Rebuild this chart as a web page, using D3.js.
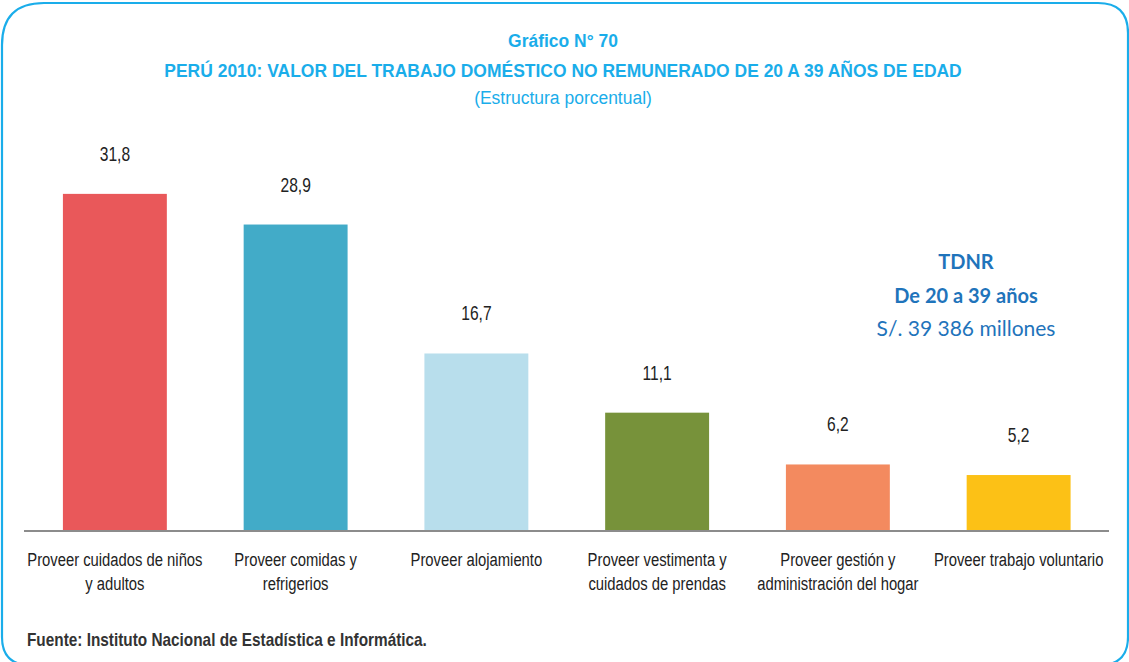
<!DOCTYPE html>
<html>
<head>
<meta charset="utf-8">
<script src="https://cdn.jsdelivr.net/npm/d3@7"></script>
<style>
  html, body { margin: 0; padding: 0; background: #fff; }
  svg { display: block; }
</style>
</head>
<body>
<div id="chart"></div>
<script>
// Categories (two-line labels), values and bar colours
const categories = [
  ["Proveer cuidados de niños", "y adultos"],
  ["Proveer comidas y", "refrigerios"],
  ["Proveer alojamiento"],
  ["Proveer vestimenta y", "cuidados de prendas"],
  ["Proveer gestión y", "administración del hogar"],
  ["Proveer trabajo voluntario"]
];
const values = [31.8, 28.9, 16.7, 11.1, 6.2, 5.2];
const colors = ["#E9585A", "#42ABC8", "#B8DEEC", "#77923A", "#F38A5F", "#FCC116"];

const titleLines = [
  "Gráfico N° 70",
  "PERÚ 2010: VALOR DEL TRABAJO DOMÉSTICO NO REMUNERADO DE 20 A 39 AÑOS DE EDAD",
  "(Estructura porcentual)"
];
const noteLines = ["TDNR", "De 20 a 39 años", "S/. 39 386 millones"];
const source = "Fuente: Instituto Nacional de Estadística e Informática.";

const W = 1129, H = 662;
const sans = "'Liberation Sans', Arial, sans-serif";

const svg = d3.select("#chart").append("svg")
  .attr("width", W).attr("height", H);

// Condensed text: draw at origin, then translate and squeeze horizontally
function condensed(g, x, y, sx, text, size, weight, anchor, fill) {
  return g.append("text")
    .attr("transform", `translate(${x},${y}) scale(${sx},1)`)
    .attr("text-anchor", anchor)
    .attr("fill", fill)
    .style("font-family", sans)
    .style("font-size", size + "px")
    .style("font-weight", weight)
    .text(text);
}

// Rounded frame (larger radius at top-left); bottom edge runs just past the page
const fx0 = 2, fy0 = 3, fx1 = 1128, fy1 = 665;
const rTL = 42, rTR = 30, rBR = 28, rBL = 28;
const framePath = d3.path();
framePath.moveTo(fx0 + rTL, fy0);
framePath.lineTo(fx1 - rTR, fy0);
framePath.quadraticCurveTo(fx1, fy0, fx1, fy0 + rTR);
framePath.lineTo(fx1, fy1 - rBR);
framePath.quadraticCurveTo(fx1, fy1, fx1 - rBR, fy1);
framePath.lineTo(fx0 + rBL, fy1);
framePath.quadraticCurveTo(fx0, fy1, fx0, fy1 - rBL);
framePath.lineTo(fx0, fy0 + rTL);
framePath.quadraticCurveTo(fx0, fy0, fx0 + rTL, fy0);
svg.append("path")
  .attr("d", framePath.toString())
  .attr("fill", "none")
  .attr("stroke", "#1AADEA")
  .attr("stroke-width", 2.2);

// Titles
const titleG = svg.append("g");
condensed(titleG, 563, 47, 0.92, titleLines[0], 19, "bold", "middle", "#1AADEA");
condensed(titleG, 563, 77, 0.92, titleLines[1], 19, "bold", "middle", "#1AADEA");
condensed(titleG, 563, 104, 0.92, titleLines[2], 19, "normal", "middle", "#1AADEA");

// Scales
const x = d3.scaleBand()
  .domain(d3.range(categories.length))
  .range([24.5, 1109])
  .paddingInner(0.425)
  .paddingOuter(0.2125);

const y = d3.scaleLinear()
  .domain([0, 35])
  .range([530, 530 - 35 * 10.57]);

// Bars
svg.append("g").selectAll("rect")
  .data(values)
  .join("rect")
  .attr("x", (d, i) => x(i))
  .attr("y", d => y(d))
  .attr("width", x.bandwidth())
  .attr("height", d => y(0) - y(d))
  .attr("fill", (d, i) => colors[i]);

// Value labels
const valG = svg.append("g");
values.forEach((d, i) => {
  condensed(valG, x(i) + x.bandwidth() / 2, y(d) - 33, 0.78,
    d3.format(".1f")(d).replace(".", ","), 20, "normal", "middle", "#222");
});

// Baseline axis
const axis = d3.axisBottom(x).tickSize(0).tickFormat("");
const axisG = svg.append("g").attr("transform", `translate(0,${y(0) + 1})`).call(axis);
axisG.select(".domain").attr("stroke", "#8C8C8C").attr("stroke-width", 2.2)
  .attr("d", "M24,0H1109");

// Category labels
const catG = svg.append("g");
categories.forEach((lines, i) => {
  lines.forEach((ln, j) => {
    condensed(catG, x(i) + x.bandwidth() / 2, 566 + j * 24, 0.78, ln, 19, "normal", "middle", "#222");
  });
});

// Total note
const noteG = svg.append("g").attr("text-anchor", "middle").attr("fill", "#1F74BB")
  .style("font-family", "Lato, 'Open Sans', sans-serif");
noteG.append("text").attr("x", 966).attr("y", 269)
  .style("font-size", "20px").style("font-weight", "bold").text(noteLines[0]);
noteG.append("text").attr("x", 966).attr("y", 303)
  .style("font-size", "20px").style("font-weight", "bold").text(noteLines[1]);
noteG.append("text").attr("x", 966).attr("y", 336)
  .style("font-size", "21px").text(noteLines[2]);

// Source
condensed(svg, 27, 646, 0.853, source, 18, "bold", "start", "#333");
</script>
</body>
</html>
